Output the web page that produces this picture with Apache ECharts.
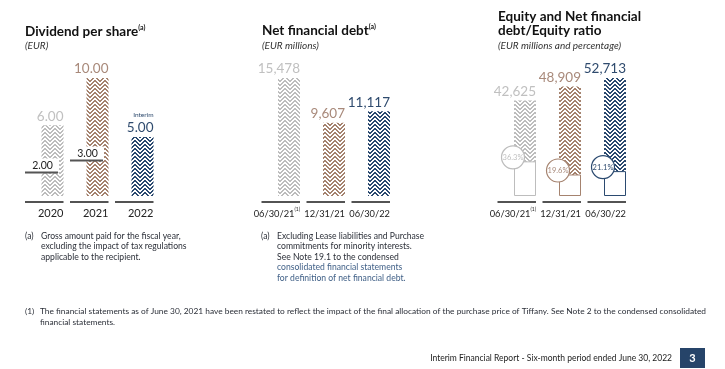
<!DOCTYPE html>
<html><head><meta charset="utf-8">
<script src="https://cdn.jsdelivr.net/npm/echarts@6/dist/echarts.min.js"></script>
<style>html,body{margin:0;padding:0;background:#fff}#c{width:725px;height:369px}</style>
</head><body><div id="c"></div>
<script>
// ---- data ----
const years = ['2020', '2021', '2022'];
const dividend = [6.00, 10.00, 5.00];
const dividendPaid = [2.00, 3.00];
const dividendNote = ['', '', 'Interim'];
const dates = ['06/30/21', '12/31/21', '06/30/22'];
const dateNotes = ['(1)', '', ''];
const netDebt = [15478, 9607, 11117];
const equity = [42625, 48909, 52713];
const gearing = [36.3, 19.6, 21.1];

// ---- style ----
const FONT = 'Lato, "Noto Sans", sans-serif';
const barCol = ['#bdbdbd', '#a5836f', '#2b4a70'];
const lblCol = ['#c0c0c0', '#a8897a', '#2f4b6e'];

function makePattern(color) {
  const w = 10, h = 4;
  const c = document.createElement('canvas'); c.width = w; c.height = h;
  const ctx = c.getContext('2d');
  ctx.fillStyle = '#fff'; ctx.fillRect(0, 0, w, h);
  ctx.fillStyle = color;
  for (let x = 0; x < w; x++) for (let y = 0; y < h; y++) {
    const d = ((y - Math.abs(x - (w / 2 - 0.5)) + 0.5) % h + h) % h;
    if (d < 2) ctx.fillRect(x, y, 1, 1);
  }
  return c;
}
const patterns = barCol.map(makePattern);

const fmtInt = v => v.toLocaleString('en-US');

function baseSeries(gi, cats, notes, fs) {
  return {
    type: 'custom', xAxisIndex: gi, yAxisIndex: gi, silent: true, z: 1, clip: false,
    data: cats.map((c, i) => [i, 0]),
    renderItem: (params, api) => {
      const i = api.value(0);
      const p = api.coord([i, 0]);
      const note = notes[i];
      return { type: 'group', children: [
        { type: 'line', shape: { x1: p[0] - 27.5, y1: p[1] + 6, x2: p[0] + 11, y2: p[1] + 6 },
          style: { stroke: '#1a1a1a', lineWidth: 1.4 } },
        { type: 'text', x: p[0] + 11, y: p[1] + 17.5,
          style: { text: note ? '{m|' + cats[i] + '}{s|' + note + '}' : '{m|' + cats[i] + '}',
            align: 'right', verticalAlign: 'middle',
            rich: { m: { fontSize: fs, fontFamily: FONT, fill: '#222', lineHeight: 13 },
                    s: { fontSize: 5, fontFamily: FONT, fill: '#222', verticalAlign: 'top', lineHeight: 13 } } } }
      ] };
    }
  };
}

const chart = echarts.init(document.getElementById('c'), null, { renderer: 'canvas' });

const grids = [30, 266.5, 502.5].map(l => ({ left: l, width: 135, top: 78, height: 118 }));
const xAxes = [years, dates, dates].map((d, i) => ({
  type: 'category', gridIndex: i, data: d, axisLine: { show: false }, axisTick: { show: false }, axisLabel: { show: false }
}));
const yAxes = [0, 1, 2].map(i => ({
  type: 'value', gridIndex: i, min: 0, max: 'dataMax', show: false, splitLine: { show: false }
}));

function barLabel(i, fs) {
  return { show: true, position: ['100%', -2], align: 'right', verticalAlign: 'bottom',
    color: lblCol[i], fontSize: fs, fontFamily: FONT };
}

const series = [
  // Dividend
  {
    type: 'bar', xAxisIndex: 0, yAxisIndex: 0, barWidth: 22,
    data: dividend.map((v, i) => ({
      value: v, itemStyle: { color: { image: patterns[i], repeat: 'repeat' } },
      label: Object.assign(barLabel(i, 13.5), {
        formatter: dividendNote[i] ? '{s|' + dividendNote[i] + '}\n{v|' + v.toFixed(2) + '}' : v.toFixed(2),
        rich: { s: { fontSize: 6.5, color: lblCol[i], fontFamily: FONT, align: 'right', lineHeight: 10 },
                v: { fontSize: 13.5, color: lblCol[i], fontFamily: FONT, align: 'right', lineHeight: 15 } }
      })
    }))
  },
  {
    type: 'custom', xAxisIndex: 0, yAxisIndex: 0, z: 3, silent: true, clip: false,
    data: dividendPaid.map((v, i) => [i, v]),
    renderItem: (params, api) => {
      const p = api.coord([api.value(0), api.value(1)]);
      return { type: 'group', children: [
        { type: 'rect', shape: { x: p[0] - 27.5, y: p[1] - 14, width: 34, height: 14 }, style: { fill: '#fff' } },
        { type: 'line', shape: { x1: p[0] - 27.5, y1: p[1], x2: p[0] + 5.5, y2: p[1] }, style: { stroke: '#555', lineWidth: 2 } },
        { type: 'text', x: p[0] - 10, y: p[1] - 6.5,
          style: { text: api.value(1).toFixed(2), align: 'center', verticalAlign: 'middle', fontSize: 10.5, fontFamily: FONT, fill: '#222' } }
      ] };
    }
  },
  baseSeries(0, years, ['', '', ''], 11),
  // Net financial debt
  {
    type: 'bar', xAxisIndex: 1, yAxisIndex: 1, barWidth: 22,
    data: netDebt.map((v, i) => ({
      value: v, itemStyle: { color: { image: patterns[i], repeat: 'repeat' } },
      label: Object.assign(barLabel(i, 13.5), { formatter: fmtInt(v) })
    }))
  },
  baseSeries(1, dates, dateNotes, 9.3),
  // Equity
  {
    type: 'bar', xAxisIndex: 2, yAxisIndex: 2, barWidth: 22, barGap: '-100%',
    data: equity.map((v, i) => ({
      value: v, itemStyle: { color: { image: patterns[i], repeat: 'repeat' } },
      label: Object.assign(barLabel(i, 13.5), { formatter: fmtInt(v) })
    }))
  },
  {
    type: 'bar', xAxisIndex: 2, yAxisIndex: 2, barWidth: 22, barGap: '-100%',
    data: netDebt.map((v, i) => ({
      value: v, itemStyle: { color: '#fff', borderColor: barCol[i], borderWidth: 1 }
    }))
  },
  {
    type: 'custom', xAxisIndex: 2, yAxisIndex: 2, z: 10, silent: true, clip: false,
    data: netDebt.map((v, i) => [i, v]),
    renderItem: (params, api) => {
      const i = api.value(0);
      const p = api.coord([i, api.value(1)]);
      const cx = p[0] - 12, cy = p[1] - 4;
      return { type: 'group', children: [
        { type: 'circle', shape: { cx: cx, cy: cy, r: 11.5 }, style: { fill: '#fff', stroke: barCol[i], lineWidth: 1.2 } },
        { type: 'text', x: cx, y: cy, style: { text: gearing[i].toFixed(1) + '%', align: 'center', verticalAlign: 'middle',
          fontSize: 7.5, fontFamily: FONT, fill: lblCol[i] } }
      ] };
    }
  },
  baseSeries(2, dates, dateNotes, 9.3)
];

function title(x, y, main, sup) {
  return { type: 'text', x: x, y: y, style: {
    text: '{t|' + main + '}' + (sup ? '{s|' + sup + '}' : ''), verticalAlign: 'middle',
    rich: { t: { fontSize: 13.5, fontWeight: 'bold', fontFamily: FONT, fill: '#111', lineHeight: 16 },
            s: { fontSize: 7, fontWeight: 'bold', fontFamily: FONT, fill: '#111', verticalAlign: 'top', lineHeight: 16 } } } };
}
function sub(x, y, t) {
  return { type: 'text', x: x, y: y, style: { text: t, verticalAlign: 'middle', fontSize: 10, fontStyle: 'italic', fontFamily: FONT, fill: '#333' } };
}
function note(x, y, t, col) {
  return { type: 'text', x: x, y: y, style: { text: t, verticalAlign: 'middle', fontSize: 8.6, fontFamily: FONT, fill: col || '#2b2f38' } };
}
const BLUE = '#3f5f86';
const NARROW = '"Liberation Sans Narrow", ' + FONT;

const graphic = [
  title(25, 32, 'Dividend per share', '(a)'),
  sub(25, 46, '(EUR)'),
  title(262, 31, 'Net financial debt', '(a)'),
  sub(262, 46, '(EUR millions)'),
  title(498, 17, 'Equity and Net financial'),
  title(498, 31, 'debt/Equity ratio'),
  sub(498, 46, '(EUR millions and percentage)'),
  note(25, 236, '(a)'),
  note(41, 236, 'Gross amount paid for the fiscal year,'),
  note(41, 246.5, 'excluding the impact of tax regulations'),
  note(41, 257, 'applicable to the recipient.'),
  note(261, 236, '(a)'),
  note(277, 236, 'Excluding Lease liabilities and Purchase'),
  note(277, 246.5, 'commitments for minority interests.'),
  note(277, 257, 'See Note 19.1 to the condensed'),
  note(277, 267.5, 'consolidated financial statements', BLUE),
  note(277, 278, 'for definition of net financial debt.', BLUE),
  { type: 'text', x: 25, y: 311, style: { text: '(1)', verticalAlign: 'middle', fontSize: 8.35, fontFamily: NARROW, fill: '#2b2f38' } },
  { type: 'text', x: 40, y: 311, style: { text: 'The financial statements as of June 30, 2021 have been restated to reflect the impact of the final allocation of the purchase price of Tiffany. See Note 2 to the condensed consolidated', verticalAlign: 'middle', fontSize: 8.35, fontFamily: NARROW, fill: '#2b2f38' } },
  { type: 'text', x: 40, y: 322, style: { text: 'financial statements.', verticalAlign: 'middle', fontSize: 8.35, fontFamily: NARROW, fill: '#2b2f38' } },
  { type: 'text', x: 672, y: 358, style: { text: 'Interim Financial Report - Six-month period ended June 30, 2022', align: 'right', verticalAlign: 'middle', fontSize: 8.5, fontFamily: NARROW, fill: '#222' } },
  { type: 'rect', shape: { x: 680, y: 348, width: 25, height: 20 }, style: { fill: '#264469' } },
  { type: 'text', x: 692.5, y: 358, style: { text: '3', align: 'center', verticalAlign: 'middle', fontSize: 11, fontWeight: 'bold', fontFamily: FONT, fill: '#fff' } }
];

chart.setOption({
  backgroundColor: '#fff',
  animation: false,
  grid: grids, xAxis: xAxes, yAxis: yAxes,
  series: series,
  graphic: graphic
});
</script>
</body></html>
